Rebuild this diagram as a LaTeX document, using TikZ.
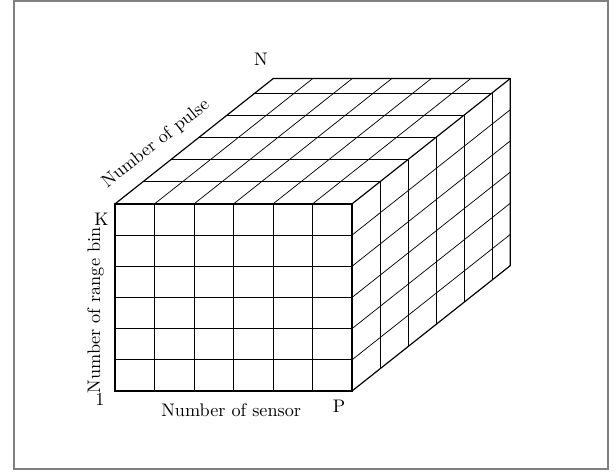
\documentclass[tikz,border=0pt]{standalone}
\usepackage{tikz}
\newcommand{\cubedepth}{5.65}

\begin{document}
\begin{tikzpicture}[x=1pt, y=1pt,
    grid/.style={line width=0.4pt},
    edge/.style={line width=0.65pt},
    lbl/.style={inner sep=0pt, font=\normalsize}]
\useasboundingbox (-63.25,-45.1) rectangle (275.55,215.05);
\draw[gray, line width=0.8pt] (-55.5,214.4) rectangle (271.2,-42.9);
% the data cube
\begin{scope}[x={(21.725pt,0pt)}, y={(0pt,17.15pt)}, z={(15.4pt,12.2pt)}]
% front face
\foreach \i in {1,...,5} \draw[grid] (\i,0,0) -- (\i,6,0);
\foreach \j in {1,...,5} \draw[grid] (0,\j,0) -- (6,\j,0);
% top face
\foreach \i in {1,...,5} \draw[grid] (\i,6,0) -- (\i,6,\cubedepth);
\foreach \k in {1,...,5} \draw[grid] (0,6,\k) -- (6,6,\k);
% right face
\foreach \j in {1,...,5} \draw[grid] (6,\j,0) -- (6,\j,\cubedepth);
\foreach \k in {1,...,5} \draw[grid] (6,0,\k) -- (6,6,\k);
% outline
\draw[edge] (0,0,0) -- (6,0,0) -- (6,6,0) -- (0,6,0) -- cycle;
\draw[edge] (0,6,0) -- (0,6,\cubedepth) -- (6,6,\cubedepth) -- (6,0,\cubedepth) -- (6,0,0);
\draw[edge] (6,6,0) -- (6,6,\cubedepth);
\end{scope}
% labels
\node[lbl] (lblN) at (80.2,182.5) {N};
\node[lbl, rotate=38.4] (lblpulse) at (22.5,135.9) {Number of pulse};
\node[lbl] (lblK) at (-7.4,94.6) {K};
\node[lbl, rotate=90] (lblrange) at (-10.7,44.3) {Number of range bin};
\node[lbl] (lblone) at (-8.25,-4.7) {1};
\node[lbl] (lblsensor) at (63.9,-10.3) {Number of sensor};
\node[lbl] (lblP) at (123.2,-8.5) {P};
\end{tikzpicture}
\end{document}
